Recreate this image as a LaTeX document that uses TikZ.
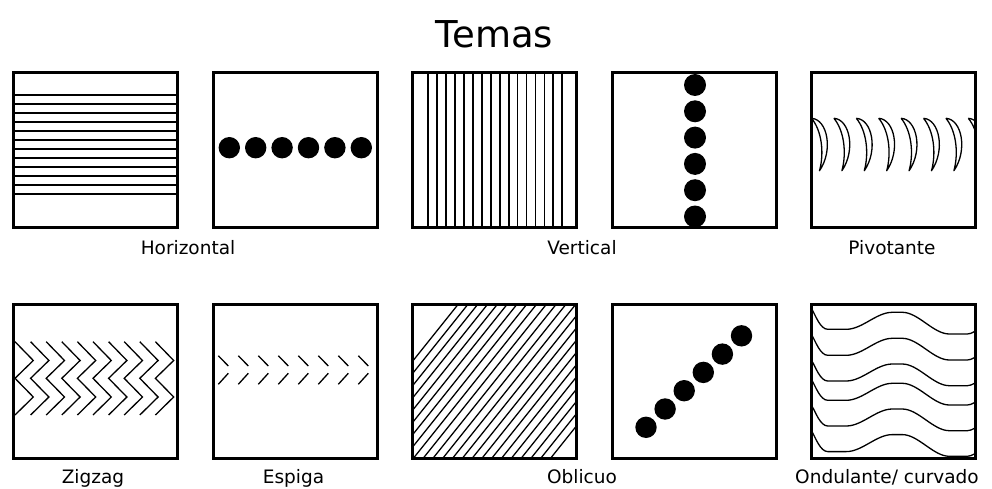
\documentclass[tikz,border=0pt]{standalone}
\usepackage{fontspec}
\setmainfont{DejaVu Sans}
\begin{document}
\begin{tikzpicture}[x=1pt,y=-1pt,
  frame/.style={line width=3pt},
  hatch/.style={line width=1.7pt},
  fine/.style={line width=1.3pt},
  lbl/.style={anchor=base,inner sep=0pt,font=\fontsize{18.5}{22}\selectfont},
  ttl/.style={anchor=base,inner sep=0pt,font=\fontsize{37}{44}\selectfont}]
\useasboundingbox (0,0) rectangle (992,489);

% title
\node[ttl] (title) at (494.5,48) {Temas};

% --- row 1 ---
% horizontal lines
\begin{scope}[shift={(13,73)}]
  \foreach \k in {0,...,11} \draw[hatch] (0,{21.7+9.03*\k}) -- (164,{21.7+9.03*\k});
  \draw[frame] (0,0) rectangle (164,154);
\end{scope}
% horizontal row of dots
\begin{scope}[shift={(213,73)}]
  \foreach \k in {0,...,5} \fill ({16.3+26.4*\k},74.7) circle[radius=10.7pt];
  \draw[frame] (0,0) rectangle (164,154);
\end{scope}
% vertical lines
\begin{scope}[shift={(412,73)}]
  \foreach \k in {0,...,15} \draw[hatch] ({16.3+8.93*\k},0) -- ({16.3+8.93*\k},154);
  \draw[frame] (0,0) rectangle (164,154);
\end{scope}
% vertical column of dots
\begin{scope}[shift={(612,73)}]
  \foreach \k in {0,...,5} \fill (83,{12+26.3*\k}) circle[radius=11pt];
  \draw[frame] (0,0) rectangle (164,154);
\end{scope}
% pivoting crescents
\begin{scope}[shift={(811,73)}]
  \begin{scope}
    \clip (0,0) rectangle (164,154);
    \foreach \k in {0,...,7}
      \draw[fine,line join=round,shift={({0.5+22.4*\k},45.3)}]
        (0,0) .. controls (16,1) and (22,32) .. (8,52.4)
              .. controls (13,34) and (10,12) .. (0,0);
  \end{scope}
  \draw[frame] (0,0) rectangle (164,154);
\end{scope}

% --- row 2 ---
% zigzag
\begin{scope}[shift={(13,304)}]
  \foreach \k in {0,...,9}
    \draw[fine] ({2+15.6*\k},37.7) -- ++(18.3,18.8) -- ++(-18.3,17.8)
                                   -- ++(18.3,18.7) -- ++(-18.3,18);
  \draw[frame] (0,0) rectangle (164,154);
\end{scope}
% herringbone
\begin{scope}[shift={(213,304)}]
  \foreach \k in {0,...,7} {
    \draw[fine] ({5.3+20*\k},51.7) -- ++(10,10.3);
    \draw[fine] ({5.3+20*\k},80.3) -- ++(10,-11);
  }
  \draw[frame] (0,0) rectangle (164,154);
\end{scope}
% oblique lines
\begin{scope}[shift={(412,304)}]
  \begin{scope}
    \clip (0,0) rectangle (164,154);
    \foreach \k in {-10,...,12} \draw[fine] ({164-9.8*\k},0) -- ++(-160,200);
  \end{scope}
  \draw[frame] (0,0) rectangle (164,154);
\end{scope}
% oblique row of dots
\begin{scope}[shift={(612,304)}]
  \foreach \k in {0,...,5} \fill ({34+19.1*\k},{123.3-18.3*\k}) circle[radius=10.7pt];
  \draw[frame] (0,0) rectangle (164,154);
\end{scope}
% waves
\begin{scope}[shift={(811,304)}]
  \begin{scope}
    \clip (0,0) rectangle (164,154);
    \foreach \s in {6,32,57.7,77,102.7,128.3}
      \draw[fine,shift={(1.3,\s)}]
        (0,0) .. controls (3,5) and (8,19.3) .. (15.4,19.3) -- (34,19.3)
        .. controls (50,19.3) and (64,2.3) .. (80,2.3)
        .. controls (84,2.3) and (86,2.3) .. (90,2.3)
        .. controls (106,2.3) and (121,24) .. (137,24) -- (155,24)
        .. controls (158,24) and (159,23) .. (162,21.7);
  \end{scope}
  \draw[frame] (0,0) rectangle (164,154);
\end{scope}

% labels
\node[lbl] (lh)  at (188,254)   {Horizontal};
\node[lbl] (lv)  at (582,254)   {Vertical};
\node[lbl] (lp)  at (892,254)   {Pivotante};
\node[lbl] (lz)  at (93,483)    {Zigzag};
\node[lbl] (le)  at (293.5,483) {Espiga};
\node[lbl] (lo)  at (582,483)   {Oblicuo};
\node[lbl] (lw)  at (887,483)   {Ondulante/ curvado};
\end{tikzpicture}
\end{document}
